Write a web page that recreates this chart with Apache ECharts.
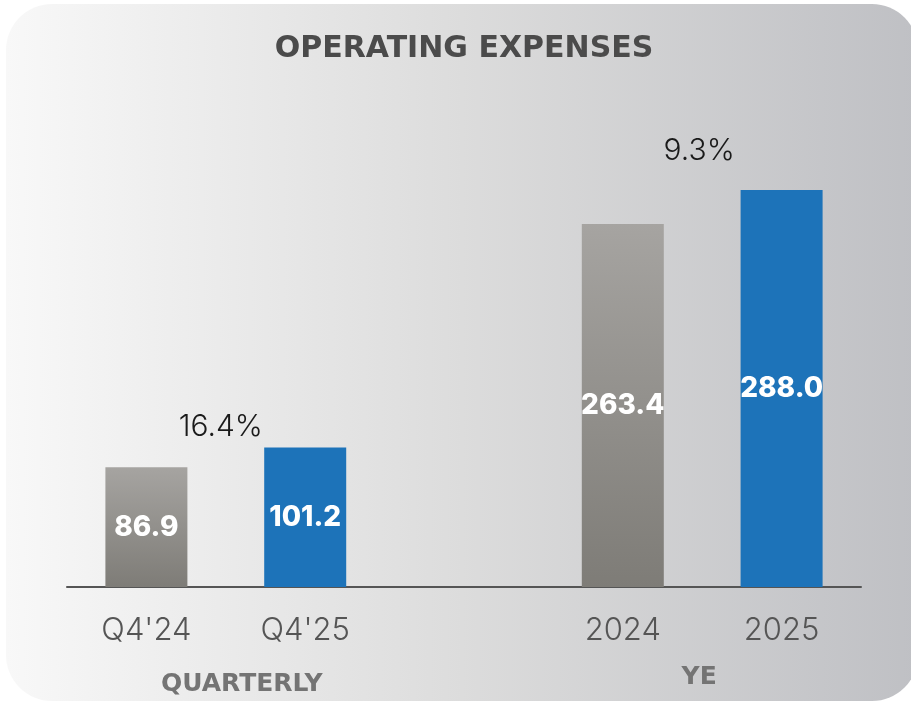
<!DOCTYPE html>
<html>
<head>
<meta charset="utf-8">
<script src="https://cdn.jsdelivr.net/npm/echarts@6/dist/echarts.min.js"></script>
<style>
    html, body { margin: 0; padding: 0; background: #fff; }
    #main { width: 911px; height: 703px; }
</style>
</head>
<body>
<div id="main"></div>
<script>
// data
var categories = ["Q4'24", "Q4'25", '', '2024', '2025'];
var priorValues = [86.9, '-', '-', 263.4, '-'];
var currentValues = ['-', 101.2, '-', '-', 288.0];
var growthLabels = ['16.4%', '9.3%'];
var growthPairs = [[0, 1], [3, 4]];   // category index pairs the growth sits over
var groupNames = ['QUARTERLY', 'YE'];

var FONT = 'Inter, "Noto Sans", sans-serif';
var BOLD_FONT = '"DejaVu Sans", Inter, sans-serif';

var chart = echarts.init(document.getElementById('main'));

var valueLabel = {
    show: true,
    position: 'inside',
    color: '#fff',
    fontFamily: FONT,
    fontWeight: 800,
    fontSize: 28,
    formatter: function (p) { return p.value.toFixed(1); }
};

var option = {
    animation: false,
    graphic: [],
    grid: {
        left: 67,
        right: 50,
        top: 173.5,
        bottom: 116
    },
    xAxis: {
        type: 'category',
        data: categories,
        axisTick: { show: false },
        axisLine: {
            show: true,
            lineStyle: { color: '#555', width: 2 }
        },
        axisLabel: {
            interval: 0,
            margin: 28,
            color: '#555',
            fontFamily: FONT,
            fontWeight: 300,
            fontSize: 31
        }
    },
    yAxis: {
        type: 'value',
        min: 0,
        max: 300,
        show: false
    },
    series: [{
        name: 'prior',
        type: 'bar',
        stack: 'all',
        barWidth: 82,
        data: priorValues,
        itemStyle: {
            color: new echarts.graphic.LinearGradient(0, 0, 0, 1, [
                { offset: 0, color: '#a6a4a1' },
                { offset: 1, color: '#7e7c77' }
            ])
        },
        label: valueLabel
    }, {
        name: 'current',
        type: 'bar',
        stack: 'all',
        barWidth: 82,
        data: currentValues,
        itemStyle: { color: '#1d73b9' },
        label: valueLabel
    }]
};

chart.setOption(option);

// background card, title, growth and group labels
var graphics = [{
    type: 'rect',
    z: -10,
    silent: true,
    shape: { x: 6, y: 4, width: 912, height: 697, r: 46 },
    style: {
        fill: new echarts.graphic.LinearGradient(0, 0, 1, 0, [
            { offset: 0, color: '#f8f8f8' },
            { offset: 0.5, color: '#dcdcdc' },
            { offset: 1, color: '#bfc0c4' }
        ])
    }
}, {
    type: 'text',
    x: 464,
    y: 49,
    style: {
        text: 'OPERATING EXPENSES',
        fill: '#4b4b4b',
        font: 'bold 30px ' + BOLD_FONT,
        align: 'center',
        verticalAlign: 'middle'
    }
}];

var growthGap = [21, 39];     // label centre distance above the taller bar
var growthShift = [-5, -3];
var groupY = [684, 677];
var groupShift = [16, -3];

growthPairs.forEach(function (pair, i) {
    var a = chart.convertToPixel({ seriesIndex: 0 }, [pair[0], 0]);
    var b = chart.convertToPixel({ seriesIndex: 0 }, [pair[1], 0]);
    var tallest = Math.max(priorValues[pair[0]], currentValues[pair[1]]);
    var top = chart.convertToPixel({ seriesIndex: 0 }, [pair[1], tallest]);
    var mid = (a[0] + b[0]) / 2;
    graphics.push({
        type: 'text',
        x: mid + growthShift[i],
        y: top[1] - growthGap[i],
        style: {
            text: growthLabels[i],
            fill: '#1a1a1a',
            font: '300 30px ' + FONT,
            align: 'center',
            verticalAlign: 'middle'
        }
    });
    graphics.push({
        type: 'text',
        x: mid + groupShift[i],
        y: groupY[i],
        style: {
            text: groupNames[i],
            fill: '#747474',
            font: 'bold 25px ' + BOLD_FONT,
            align: 'center',
            verticalAlign: 'middle'
        }
    });
});

chart.setOption({ graphic: graphics });
</script>
</body>
</html>
